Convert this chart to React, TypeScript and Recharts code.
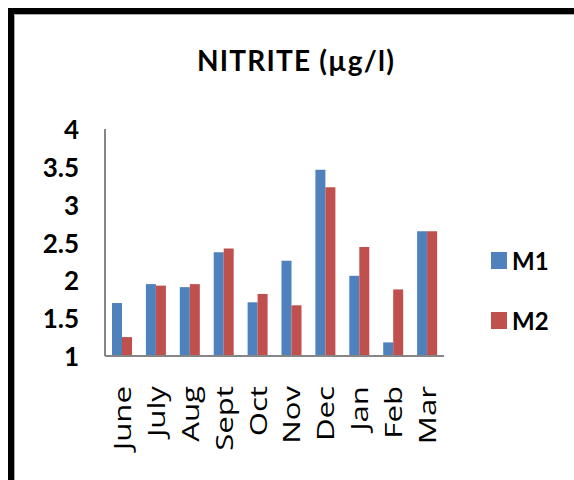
import React from 'react';
import { BarChart, Bar, XAxis, YAxis } from 'recharts';

// monthly nitrite readings at the two sampling stations
const months = ['June', 'July', 'Aug', 'Sept', 'Oct', 'Nov', 'Dec', 'Jan', 'Feb', 'Mar'];
const m1 = [1.7, 1.95, 1.91, 2.37, 1.71, 2.26, 3.46, 2.06, 1.18, 2.65];
const m2 = [1.25, 1.93, 1.95, 2.42, 1.82, 1.67, 3.23, 2.44, 1.88, 2.65];
const yTicks = [1, 1.5, 2, 2.5, 3, 3.5, 4];

const BLUE = '#4F81BD';
const RED = '#C0504D';
const AXIS = '#868686';
const HEAD_FONT = 'Lato, "Open Sans", sans-serif';

const data = months.map((month, i) => ({ month, M1: m1[i], M2: m2[i] }));

const YTick = (props: any) => {
  const { y, payload } = props;
  return (
    <text x={79} y={y} textAnchor="end" dominantBaseline="central"
      fontFamily={HEAD_FONT} fontWeight={700} fontSize={26} fill="#000">
      {payload.value}
    </text>
  );
};

// month names run bottom-to-top, stretched a little along their length
const XTick = (props: any) => {
  const { x, payload } = props;
  return (
    <text transform={`translate(${x + 9},386) rotate(-90) scale(1.3,1)`} textAnchor="end"
      fontFamily='"Open Sans", sans-serif' fontSize={24} fill="#000">
      {payload.value}
    </text>
  );
};

const LegendBox = () => (
  <div style={{ position: 'absolute', left: 491, top: 243, fontFamily: HEAD_FONT, fontWeight: 700, fontSize: 24 }}>
    {[{ name: 'M1', color: BLUE }, { name: 'M2', color: RED }].map((s, i) => (
      <div key={s.name} style={{ display: 'flex', alignItems: 'center', height: 34, marginBottom: i === 0 ? 26 : 0 }}>
        <div style={{ width: 16, height: 17, background: s.color, marginRight: 5 }} />
        <span>{s.name}</span>
      </div>
    ))}
  </div>
);

export default function App() {
  return (
    <div style={{ position: 'fixed', left: 0, top: 0, width: 574, height: 480, overflow: 'hidden', background: '#fff' }}>
      <div style={{
        position: 'absolute', left: 8, top: 8, width: 600, height: 520, boxSizing: 'border-box',
        border: '6px solid #000', boxShadow: 'inset 1px 1px 0 #aaa',
      }} />
      <svg width={574} height={100} style={{ position: 'absolute', left: 0, top: 0 }}>
        <text x={296} y={71} textAnchor="middle" fontFamily={HEAD_FONT} fontWeight={700}
          fontSize={28} letterSpacing={1.2} fill="#000">
          NITRITE (µg/l)
        </text>
      </svg>
      <div style={{ position: 'absolute', left: 0, top: 0 }}>
        <BarChart width={574} height={480} data={data} barGap={0} barSize={10}
          margin={{ top: 129, right: 130, bottom: 0, left: 0 }}>
          <XAxis dataKey="month" height={124} tick={<XTick />} tickLine={false}
            axisLine={{ stroke: AXIS, strokeWidth: 2 }} interval={0} />
          <YAxis width={105} domain={[1, 4]} ticks={yTicks} allowDataOverflow tick={<YTick />}
            tickLine={false} axisLine={{ stroke: AXIS, strokeWidth: 2 }} />
          <Bar dataKey="M1" fill={BLUE} isAnimationActive={false} />
          <Bar dataKey="M2" fill={RED} isAnimationActive={false} />
        </BarChart>
      </div>
      <LegendBox />
    </div>
  );
}
